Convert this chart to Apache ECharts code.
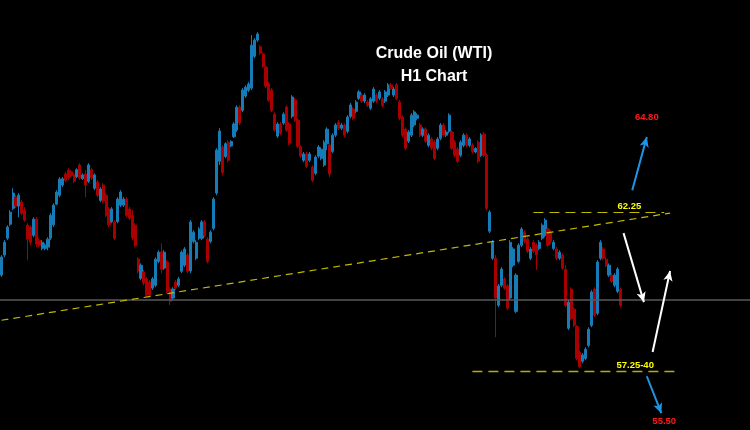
<!DOCTYPE html>
<html>
<head>
<meta charset="utf-8">
<script src="https://cdn.jsdelivr.net/npm/echarts@6/dist/echarts.min.js"></script>
<style>html,body{margin:0;padding:0;background:#000;}#c{width:750px;height:430px;}</style>
</head>
<body>
<div id="c"></div>
<script>
// Crude Oil (WTI) H1 candles (open, close, low, high)
const opens = [
 60.27,60.90,61.43,61.87,62.37,62.72,62.44,62.57,62.30,61.84,61.78,61.52,62.03,61.37,61.11,61.11,61.15,61.43,61.85,62.50,62.78,63.10,63.45,63.57,63.52,63.42,63.37,63.73,63.30,63.45,63.22,63.58,63.00,63.20,62.62,63.10,62.78,62.35,61.95,61.94,61.95,
 62.47,62.47,62.66,62.35,62.15,61.84,60.78,60.17,60.37,60.15,60.05,59.86,59.95,60.70,61.00,60.49,60.68,59.83,59.55,60.05,59.95,60.39,60.58,60.90,60.40,61.33,60.80,61.43,61.43,61.94,61.40,61.33,61.74,
 62.85,63.85,64.30,64.00,64.45,64.33,64.62,64.83,65.55,65.45,65.90,66.08,66.15,67.15,67.66,67.45,67.22,66.81,66.28,66.09,65.33,64.64,65.02,65.05,65.55,65.02,65.26,65.78,65.14,64.30,63.88,64.08,63.88,63.67,63.47,64.01,
 63.94,63.73,64.40,64.36,64.16,64.67,65.08,64.89,64.99,64.79,65.26,65.49,65.42,65.83,65.93,65.74,65.71,65.52,65.74,65.93,65.83,65.81,65.74,65.93,66.25,65.93,66.25,65.71,65.24,64.86,64.48,64.67,64.99,65.20,64.99,64.67,64.86,64.35,64.55,64.45,64.26,64.57,64.99,64.67,64.79,64.77,64.45,64.23,64.04,64.35,64.67,64.35,64.36,
 64.14,64.45,64.04,64.70,64.04,61.65,60.80,60.80,59.32,59.95,60.15,59.93,59.55,60.58,59.13,60.70,61.21,61.62,61.40,60.80,61.30,61.21,61.11,61.43,61.52,61.72,61.62,61.11,61.09,60.80,60.90,60.45,58.60,59.83,59.20,58.65,57.85,57.56,57.65,58.06,58.69,59.83,59.07,60.80,61.09,60.77,60.27,60.27,59.95,59.76,59.83
];
const closes = [
 60.84,61.30,61.78,62.25,62.85,62.44,62.78,62.21,62.00,61.40,61.30,62.03,61.25,61.21,61.30,61.21,61.40,62.15,62.47,62.88,63.29,63.30,63.25,63.32,63.40,63.22,63.58,63.32,63.42,63.10,63.73,63.32,63.42,62.78,62.98,62.60,62.15,61.85,62.35,61.43,62.66,
 62.88,62.66,62.15,62.06,61.45,61.21,60.40,60.58,60.02,59.64,59.64,60.15,60.77,60.99,60.45,60.99,59.76,59.45,59.83,59.86,60.15,60.99,61.09,60.39,61.94,61.62,61.30,61.72,61.94,61.52,60.70,61.62,62.66,
 64.20,64.80,63.50,64.40,63.88,64.47,65.02,65.55,65.05,66.09,66.18,66.28,67.50,67.66,67.85,67.25,66.84,66.21,65.77,65.45,64.83,65.02,64.73,65.33,64.83,64.42,65.87,65.14,64.32,64.01,64.08,63.69,64.08,63.25,63.98,64.30,
 64.23,64.45,64.86,63.45,64.67,64.99,64.89,64.99,64.67,65.24,65.62,65.20,65.71,66.03,65.74,65.93,65.60,65.81,66.12,65.74,66.03,65.60,66.03,66.25,66.14,66.12,65.83,65.20,64.67,64.26,64.77,65.30,65.40,65.30,64.67,64.86,64.48,64.67,64.26,63.94,64.55,64.99,64.67,64.77,65.30,64.26,64.04,63.85,64.45,64.67,64.35,64.55,64.16,
 64.25,63.85,64.67,64.04,62.37,62.25,61.30,59.55,59.93,60.46,59.86,59.23,61.30,61.09,60.27,61.21,61.72,61.33,61.02,61.09,61.02,60.90,61.30,61.84,62.00,61.21,61.33,61.30,60.80,60.99,60.49,59.32,59.42,58.91,58.69,57.65,57.40,57.76,57.94,58.57,59.74,59.01,60.68,61.30,60.80,60.58,60.58,60.08,60.27,60.46,59.32
];
const lows = [
 60.21,60.83,61.37,61.81,62.31,62.38,62.09,62.15,61.94,60.74,61.21,61.46,61.15,61.15,61.05,61.05,61.05,61.37,61.78,62.47,62.72,63.04,63.19,63.26,63.35,63.16,63.32,63.26,63.26,62.72,63.16,63.26,62.94,62.72,62.56,62.53,62.09,61.78,61.90,61.37,61.90,
 62.41,62.41,62.09,62.00,61.37,61.15,60.33,60.11,59.95,59.58,59.58,59.80,59.89,60.64,60.33,60.43,59.70,59.33,59.48,59.80,59.89,60.33,60.52,60.33,60.33,61.27,60.74,61.37,61.37,61.46,60.64,61.27,61.68,
 62.78,63.73,63.41,63.95,63.82,64.29,64.58,64.77,64.99,65.39,65.84,66.02,66.09,67.09,67.60,67.19,66.78,66.15,65.71,65.39,64.77,64.58,64.67,64.99,64.77,64.36,65.20,65.08,64.26,63.95,63.82,63.63,63.82,63.19,63.41,63.95,
 63.88,63.67,64.20,63.35,64.10,64.61,64.83,64.83,64.61,64.73,65.20,65.14,65.36,65.77,65.68,65.68,65.55,65.46,65.68,65.68,65.77,65.55,65.68,65.87,66.09,65.87,65.77,65.14,64.61,64.20,64.42,64.61,64.92,65.14,64.61,64.61,64.42,64.29,64.20,63.88,64.20,64.51,64.61,64.61,64.73,64.20,63.98,63.79,63.98,64.29,64.29,64.29,64.10,
 64.10,63.79,63.98,63.98,62.31,61.59,60.74,58.32,59.26,59.89,59.80,59.17,59.48,60.52,59.07,60.64,61.15,61.27,60.96,60.74,60.96,60.43,61.05,61.37,61.46,61.15,61.27,61.05,60.74,60.74,60.43,59.26,58.54,58.85,58.63,57.59,57.34,57.50,57.59,58.00,58.63,58.95,59.01,60.74,60.74,60.52,60.21,60.02,59.89,59.70,59.26
];
const highs = [
 60.90,61.37,61.84,62.31,63.00,62.78,62.85,62.63,62.41,61.90,61.84,62.09,62.09,61.43,61.37,61.27,61.46,62.22,62.53,62.94,63.35,63.35,63.51,63.63,63.57,63.47,63.63,63.79,63.47,63.57,63.79,63.63,63.47,63.26,63.04,63.16,62.85,62.41,62.41,62.00,62.72,
 62.94,62.72,62.72,62.41,62.31,61.90,60.83,60.64,60.43,60.21,60.11,60.21,60.83,61.05,61.27,61.05,60.74,59.89,59.89,60.11,60.21,61.05,61.15,60.96,62.00,61.68,61.37,61.78,62.00,62.00,61.46,61.68,62.72,
 64.26,64.89,64.36,64.45,64.51,64.51,65.08,65.61,65.61,66.15,66.24,66.34,67.82,67.72,67.91,67.50,67.28,66.87,66.34,66.15,65.39,65.08,65.08,65.39,65.61,65.08,65.93,65.84,65.20,64.36,64.14,64.14,64.14,63.73,64.04,64.36,
 64.29,64.51,64.92,64.42,64.73,65.05,65.14,65.05,65.05,65.30,65.68,65.55,65.77,66.09,65.99,65.99,65.77,65.87,66.18,65.99,66.09,65.87,66.09,66.31,66.31,66.18,66.31,65.77,65.30,64.92,64.83,65.36,65.46,65.36,65.05,64.92,64.92,64.73,64.61,64.51,64.61,65.05,65.05,64.83,65.36,64.83,64.51,64.29,64.51,64.73,64.73,64.61,64.42,
 64.29,64.51,64.73,64.77,64.10,62.31,61.37,60.90,59.99,60.52,60.21,59.99,61.37,61.15,60.33,61.27,61.78,61.68,61.46,61.15,61.37,61.27,61.37,61.90,62.06,61.78,61.68,61.37,61.15,61.05,60.96,60.58,59.48,59.89,59.26,58.70,57.91,57.82,58.00,58.63,59.80,59.89,60.74,61.37,61.15,60.83,60.64,60.33,60.33,60.52,59.89
];
// hourly bar slots (candles + empty future slots to the right)
const slotCount = 258;
const categories = Array.from({length: slotCount}, (_, i) => 'H' + (i + 1));

// annotation levels / texts
const titleLines = ['Crude Oil (WTI)', 'H1 Chart'];
const currentPrice = 59.48;
const resistance = 62.25;
const support = 57.25;
const trendStart = [0, 58.85];
const trendEnd = [230, 62.22];
const levelTexts = ['62.25', '57.25-40', '64.80', '55.50'];
const levelTextPos = [[216, 62.44], [218, 57.44], [222, 65.24], [228, 55.68]];
const blueUp = [[217, 62.94], [222, 64.61]];
const whiteDown = [[214, 61.59], [221, 59.42]];
const whiteUp = [[224, 57.85], [230, 60.40]];
const blueDown = [[222, 57.09], [227, 55.93]];

const candles = opens.map((o, i) => [o, closes[i], lows[i], highs[i]]);

const chart = echarts.init(document.getElementById('c'), null, {renderer: 'canvas'});
const dashY = '#c2b800';
const arrowLine = (pts, color) => [
  {coord: pts[0], symbol: 'none', lineStyle: {color: color, width: 2, type: 'solid'}},
  {coord: pts[1], symbol: 'arrow', symbolSize: [7, 10]}
];
const textColors = ['#ffff00', '#ffff00', '#ff1a1a', '#ff1a1a'];
chart.setOption({
  backgroundColor: '#000000',
  animation: false,
  title: {
    text: titleLines.join('\n'),
    left: 429, top: 37, textAlign: 'center',
    textStyle: {color: '#ffffff', fontSize: 16, fontWeight: 'bold', fontFamily: 'Liberation Sans, Arial, sans-serif', lineHeight: 23}
  },
  grid: {left: 0, right: 0, top: 0, bottom: 0},
  xAxis: {type: 'category', data: categories, show: false, boundaryGap: true},
  yAxis: {type: 'value', min: 55.40, max: 68.92, show: false, splitLine: {show: false}},
  series: [{
    type: 'candlestick',
    data: candles,
    barWidth: 2.6,
    itemStyle: {color: '#157cb8', color0: '#a80000', borderColor: '#157cb8', borderColor0: '#a80000', borderWidth: 1},
    markLine: {
      silent: true, animation: false, symbol: ['none', 'none'],
      label: {show: false},
      data: [
        [{yAxis: currentPrice, x: 0, lineStyle: {color: '#5a5a5a', width: 1.5, type: 'solid'}}, {yAxis: currentPrice, x: 750}],
        [{coord: trendStart, lineStyle: {color: dashY, width: 1.2, type: [7, 5]}}, {coord: trendEnd}],
        [{coord: [183, resistance], lineStyle: {color: dashY, width: 1.2, type: [10, 6]}}, {coord: [228, resistance]}],
        [{coord: [162, support], lineStyle: {color: '#b8ae00', width: 1.3, type: [10, 6]}}, {coord: [233, support]}],
        arrowLine(blueUp, '#1e96e6'),
        arrowLine(whiteDown, '#ffffff'),
        arrowLine(whiteUp, '#ffffff'),
        arrowLine(blueDown, '#1e96e6')
      ]
    },
    markPoint: {
      silent: true, animation: false,
      symbol: 'circle', symbolSize: 1,
      itemStyle: {color: 'rgba(0,0,0,0)'},
      data: levelTexts.map((t, i) => ({
        name: t, coord: levelTextPos[i],
        label: {show: true, position: 'inside', formatter: t, color: textColors[i], fontSize: 9.5, fontWeight: 'bold', fontFamily: 'Liberation Sans, Arial, sans-serif'}
      }))
    }
  }]
});
</script>
</body>
</html>
